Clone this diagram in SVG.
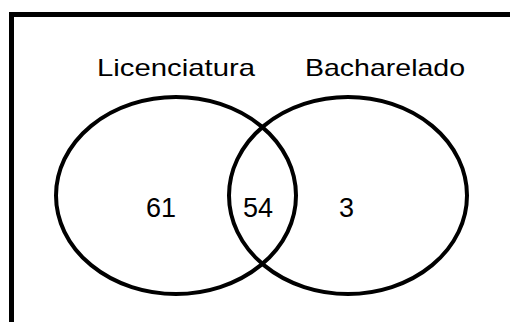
<svg xmlns="http://www.w3.org/2000/svg" width="510" height="322" viewBox="0 0 510 322">
<style>
.set{fill:none;stroke:#000;stroke-width:4}
.lbl{font-family:"Liberation Sans",Arial,sans-serif;font-size:24px;fill:#000}
.num{font-family:"Liberation Sans",Arial,sans-serif;font-size:27px;fill:#000}
</style>
<rect x="0" y="0" width="510" height="322" fill="#fff"/>
<rect x="11.5" y="14.5" width="520" height="340" fill="none" stroke="#000" stroke-width="5"/>
<g id="connectors"></g>
<g id="licenciatura">
<ellipse class="set" cx="176" cy="195.5" rx="120" ry="98.5"/>
<text class="lbl" x="97" y="76" textLength="158" lengthAdjust="spacingAndGlyphs">Licenciatura</text>
<text class="num" x="146" y="217">61</text>
</g>
<g id="bacharelado">
<ellipse class="set" cx="348" cy="195.5" rx="119" ry="98.5"/>
<text class="lbl" x="305" y="76" textLength="160" lengthAdjust="spacingAndGlyphs">Bacharelado</text>
<text class="num" x="339" y="217">3</text>
</g>
<g id="intersection">
<text class="num" x="243" y="217">54</text>
</g>
</svg>
